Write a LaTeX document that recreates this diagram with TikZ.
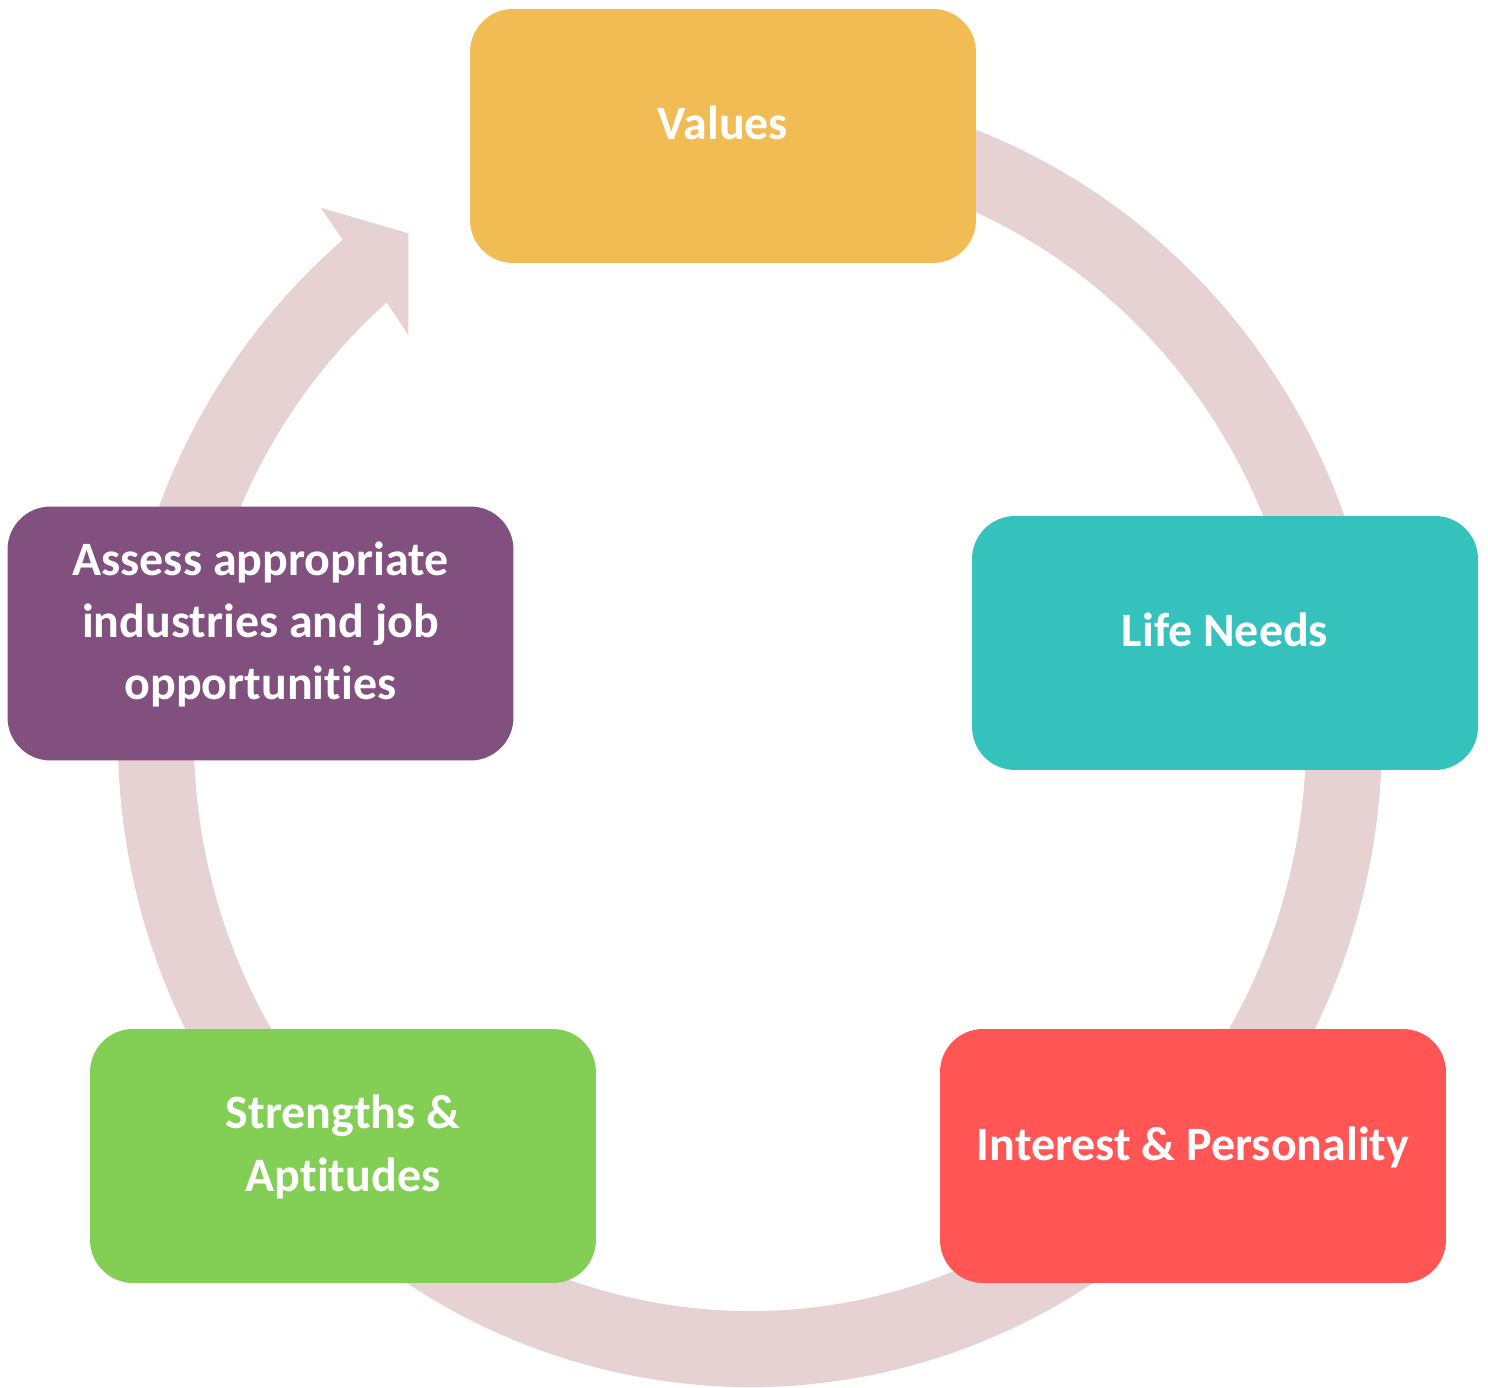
\documentclass[tikz,border=0pt]{standalone}
\usepackage{fontspec}
\setmainfont{Carlito}[Ligatures=NoCommon]
\usetikzlibrary{calc}
\definecolor{valuesc}{HTML}{F1BC53}
\definecolor{needsc}{HTML}{35C2BC}
\definecolor{interestc}{HTML}{FF5555}
\definecolor{strengthc}{HTML}{83CF56}
\definecolor{assessc}{HTML}{81507E}
\definecolor{ringc}{HTML}{E6D1D3}
\setlength{\lineskiplimit}{-20pt}
\newcommand{\ls}{\rule[-0.54cm]{0pt}{1.24cm}}
\tikzset{
	stage/.style={rounded corners=0.86cm, minimum width=10.12cm, minimum height=5.08cm,
		inner sep=0pt, text=white, align=center,
		font=\bfseries\fontsize{27.3pt}{35.3pt}\selectfont},
	ringline/.style={draw=ringc, line width=1.52cm},
}

\begin{document}
\begin{tikzpicture}[x=0.02cm, y=0.02cm]
				%%%%% START %%%%%
				\useasboundingbox (0, 0) rectangle (1488, 1387);
				
				\draw[ringline] (750, 650) ++(80:594 and 612) arc[start angle=80, end angle=-230.6, x radius=594, y radius=612];
				\fill[ringc] (341.7, 1148.7) -- (320.7, 1179.3) -- (408.3, 1153.7) -- (408.3, 1052) -- (387.3, 1083.7) -- cycle;
				
				\node[stage, fill=valuesc] (values) at (723, 1251) {\ls Values};
				\node[stage, fill=needsc] (lifeneeds) at (1225, 744) {\ls Life Needs};
				\node[stage, fill=interestc] (interest) at (1193, 231) {\ls Interest \& Personality};
				\node[stage, fill=strengthc] (strengths) at (343, 231) {\ls Strengths \&\\\ls Aptitudes};
				\node[stage, fill=assessc] (assess) at (260.5, 753.5) {\ls Assess appropriate\\\ls industries and job\\\ls opportunities};
				%%%%% END %%%%%
\end{tikzpicture}
\end{document}
